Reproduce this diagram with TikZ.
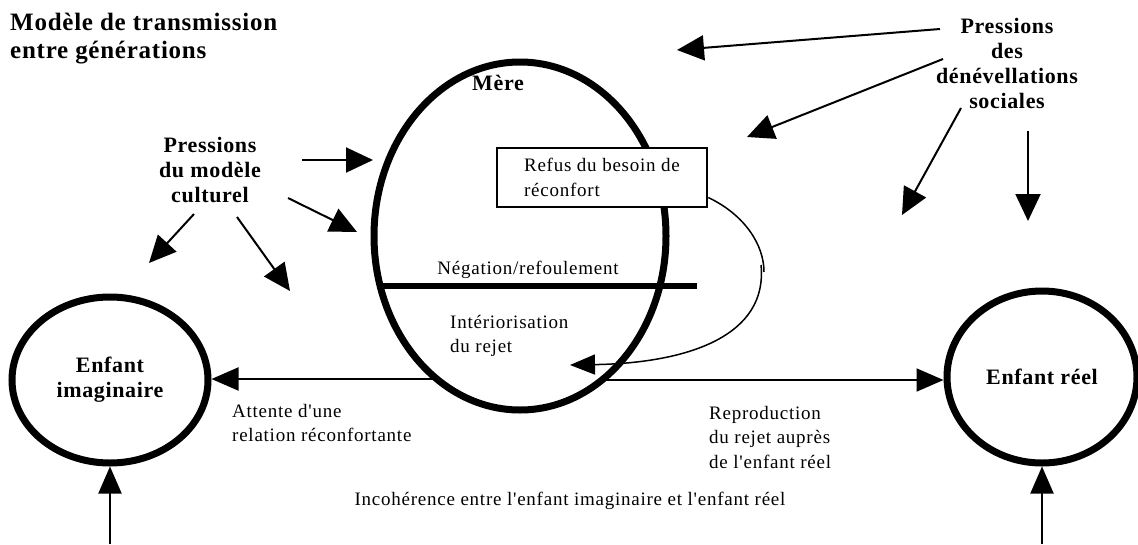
\documentclass[tikz,border=0pt]{standalone}
\usepackage{fontspec}
\setmainfont{Liberation Serif}
\newfontfamily\lblfont[LetterSpace=4]{Liberation Serif}
\newfontfamily\headfont[LetterSpace=3]{Liberation Serif}
\usetikzlibrary{shapes.geometric,arrows.meta}

\tikzset{
  body/.style={font=\lblfont\fontsize{19}{24.5}\selectfont, inner sep=0pt, align=left},
  head/.style={font=\headfont\bfseries\fontsize{22}{25}\selectfont, inner sep=0pt, align=center},
  ring/.style={ellipse, draw, line width=7pt, inner sep=0pt,
               font=\headfont\bfseries\fontsize{22}{25}\selectfont, align=center},
  push/.style={line width=2pt, -{Triangle[length=27pt,width=25pt]}},
  flow/.style={line width=2pt, -{Triangle[length=27pt,width=23pt]}},
  loopback/.style={line width=1.5pt, -{Triangle[length=25pt,width=20pt]}},
}

\begin{document}
\begin{tikzpicture}[x=1pt,y=-1pt]
\useasboundingbox[fill=white] (0,0) rectangle (1138,544);

% title
\node[head, align=left, anchor=north west, font=\headfont\bfseries\fontsize{25}{28}\selectfont]
  (title) at (10,13) {Modèle de transmission\\entre générations};

% mother and children
\node[ring, minimum width=292pt, minimum height=348pt] (mere) at (520,236) {};
\node[head] (merelbl) at (498,83) {Mère};
\node[ring, minimum width=196pt, minimum height=166pt] (img) at (110,380) {Enfant\\imaginaire};
\node[ring, minimum width=190pt, minimum height=172pt] (reel) at (1042,377) {Enfant réel};

% inside the mother
\node[draw, fill=white, line width=2.5pt, minimum width=210pt, minimum height=59pt,
      body] (refus) at (602,177.5) {Refus du besoin de\\réconfort};
\node[body, anchor=south] (neg) at (528,279) {Négation/refoulement};
\draw[line width=6pt] (378,286) -- (697,286);
\node[body, anchor=north west] (inter) at (450,315) {Intériorisation\\du rejet};

% pressure labels
\node[head, anchor=north] (pc) at (210,137) {Pressions\\du modèle\\culturel};
\node[head, anchor=north] (ps) at (1007,18) {Pressions\\des\\dénévellations\\sociales};

% pressure arrows
\coordinate (c1s) at (302,160); \coordinate (c1e) at (373,160);
\coordinate (c2s) at (288,198); \coordinate (c2e) at (357,232);
\coordinate (c3s) at (194,214); \coordinate (c3e) at (149,263);
\coordinate (c4s) at (237,217); \coordinate (c4e) at (290,291);
\draw[push] (c1s) -- (c1e);
\draw[push] (c2s) -- (c2e);
\draw[push] (c3s) -- (c3e);
\draw[push] (c4s) -- (c4e);

\coordinate (s1s) at (940,29);   \coordinate (s1e) at (677,50);
\coordinate (s2s) at (943,59);   \coordinate (s2e) at (747,137);
\coordinate (s3s) at (961,108);  \coordinate (s3e) at (902,215);
\coordinate (s4s) at (1028,131); \coordinate (s4e) at (1028,221);
\draw[push] (s1s) -- (s1e);
\draw[push] (s2s) -- (s2e);
\draw[push] (s3s) -- (s3e);
\draw[push] (s4s) -- (s4e);

% internalisation loop (with its small notch on the right)
\coordinate (bend) at (764,272);
\coordinate (bend2) at (761,265);
\coordinate (intertip) at (570,365);
\draw[line width=1.5pt] ([yshift=-20pt]refus.east) .. controls (745,215) and (764,245) .. (bend);
\draw[loopback] (bend2) .. controls (768,335) and (690,363) .. (intertip);

% transmission to the children
\coordinate (ma) at (435,379);
\coordinate (mb) at (605,380);
\draw[flow] (ma) -- (ma -| img.east);
\draw[flow] (mb) -- (mb -| reel.west);
\node[body, anchor=north west] (attente) at (232,404) {Attente d'une\\relation réconfortante};
\node[body, anchor=north west] (repro) at (709,406) {Reproduction\\du rejet auprès\\de l'enfant réel};

% incoherence
\coordinate (bl) at (img.south |- 0,544);
\coordinate (br) at (reel.south |- 0,544);
\draw[flow] (bl) -- (img.south);
\draw[flow] (br) -- (reel.south);
\node[body] (incoh) at (570,501) {Incohérence entre l'enfant imaginaire et l'enfant réel};
\end{tikzpicture}
\end{document}
